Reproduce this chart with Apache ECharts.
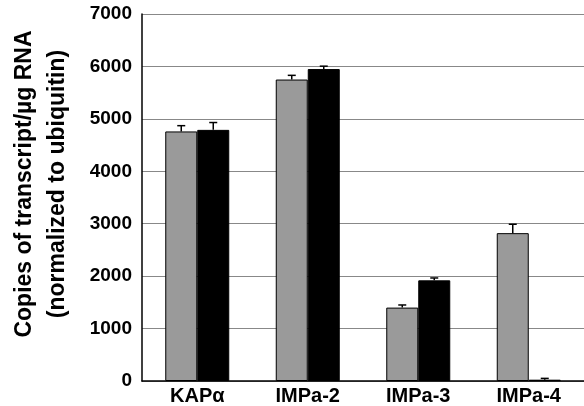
<!DOCTYPE html>
<html>
<head>
<meta charset="utf-8">
<script src="https://cdn.jsdelivr.net/npm/echarts@6/dist/echarts.min.js"></script>
<style>html,body{margin:0;padding:0;background:#fff}#c{width:584px;height:406px}</style>
</head>
<body>
<div id="c"></div>
<script>
const categories = ['KAPα', 'IMPa-2', 'IMPa-3', 'IMPa-4'];
const grayValues = [4760, 5750, 1400, 2820];
const grayErrors = [110, 80, 50, 170];
const blackValues = [4790, 5950, 1920, 25];
const blackErrors = [140, 55, 45, 25];
const yTicks = [0, 1000, 2000, 3000, 4000, 5000, 6000, 7000];

const BAR_W = 32;
const FONT = 'Liberation Sans, Arial, Helvetica, sans-serif';

function errSeries(values, errors, offset) {
  return {
    type: 'custom',
    z: 10,
    data: values.map((v, i) => [i, v, v + errors[i]]),
    renderItem: function (params, api) {
      const top = api.coord([api.value(0), api.value(2)]);
      const base = api.coord([api.value(0), api.value(1)]);
      const x = top[0] + offset;
      const cap = 4;
      return {
        type: 'group',
        children: [
          {type: 'line', shape: {x1: x, y1: base[1], x2: x, y2: top[1]}, style: {stroke: '#000', lineWidth: 1.5}},
          {type: 'line', shape: {x1: x - cap, y1: top[1], x2: x + cap, y2: top[1]}, style: {stroke: '#000', lineWidth: 1.5}}
        ]
      };
    }
  };
}

const chart = echarts.init(document.getElementById('c'));
chart.setOption({
  animation: false,
  backgroundColor: '#fff',
  grid: {left: 142, right: 0, top: 14, bottom: 23, containLabel: false},
  xAxis: {
    type: 'category',
    data: categories,
    axisLine: {lineStyle: {color: '#000', width: 1.5}},
    axisTick: {show: false},
    axisLabel: {color: '#000', fontFamily: FONT, fontWeight: 'bold', fontSize: 20, margin: 5}
  },
  yAxis: {
    type: 'value',
    min: yTicks[0],
    max: yTicks[yTicks.length - 1],
    interval: 1000,
    axisLine: {show: true, lineStyle: {color: '#000', width: 1.5}},
    axisTick: {show: false},
    splitLine: {lineStyle: {color: '#888', width: 1}},
    axisLabel: {
      color: '#000', fontFamily: FONT, fontWeight: 'bold', fontSize: 19, margin: 10,
      formatter: function (v) { return String(v); }
    }
  },
  graphic: [{
    type: 'text',
    x: 41,
    y: 184,
    rotation: Math.PI / 2,
    style: {
      text: 'Copies of transcript/µg RNA\n(normalized to ubiquitin)',
      font: 'bold 23px ' + FONT,
      fill: '#000',
      align: 'center',
      verticalAlign: 'middle',
      lineHeight: 33
    }
  }],
  series: [
    {
      type: 'bar', data: grayValues, barWidth: BAR_W, barGap: '0%',
      itemStyle: {color: '#9a9a9a', borderColor: '#000', borderWidth: 1}
    },
    {
      type: 'bar', data: blackValues, barWidth: BAR_W, barGap: '0%',
      itemStyle: {color: '#000', borderColor: '#000', borderWidth: 1}
    },
    errSeries(grayValues, grayErrors, -BAR_W / 2),
    errSeries(blackValues, blackErrors, BAR_W / 2)
  ]
});
</script>
</body>
</html>
